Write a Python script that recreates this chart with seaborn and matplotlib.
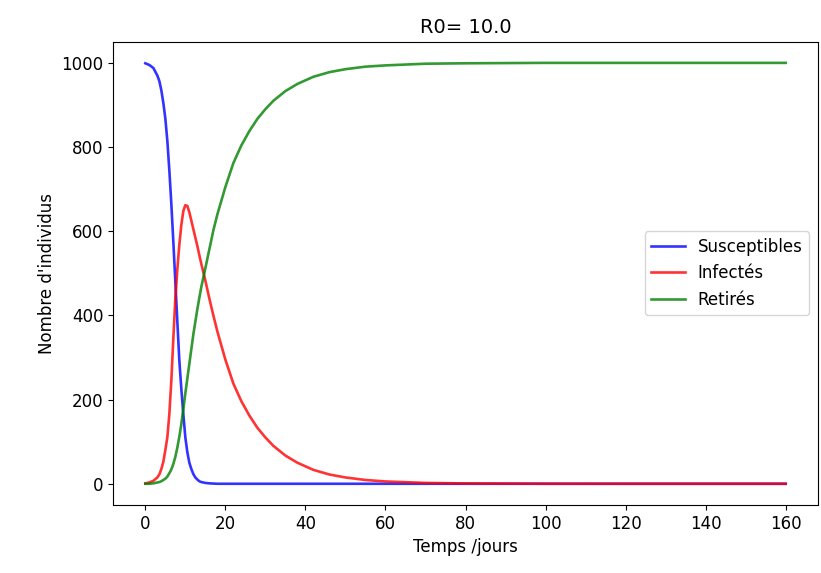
import matplotlib
matplotlib.use("Agg")
import matplotlib.pyplot as plt
import seaborn as sns
import pandas as pd

days = [0, 1, 2, 3, 3.5, 4, 4.5, 5, 5.5, 6, 6.5, 7, 7.5, 8, 8.5, 9, 9.5, 10, 10.5, 11, 11.5, 12, 12.5,
        13, 13.5, 14, 15, 16, 17, 18, 20, 22, 24, 26, 28, 30,
        32, 35, 38, 42, 46, 50, 55, 60, 70, 80, 100, 120, 140, 160]
susceptibles = [999, 995, 988, 970, 957, 935, 905, 868, 815, 745, 665, 575, 480, 385, 293, 225, 165, 110,
                75, 50, 35, 23, 15, 10, 6, 4, 2, 1, 0.5, 0, 0, 0,
                0, 0, 0, 0, 0, 0, 0, 0, 0, 0, 0, 0, 0, 0, 0, 0, 0, 0]
infectes = [1, 3, 7, 15, 22, 35, 52, 80, 110, 165, 245, 345, 440, 510, 568, 615, 648, 662,
            660, 645, 625, 605, 585, 565, 543, 522, 483, 440, 400, 362, 295, 238,
            196, 162, 133, 110, 90, 67, 50, 33, 22, 15, 9, 5.5, 2, 0.8, 0.1, 0, 0, 0]
retires = [0, 0, 1, 3, 4, 6, 9, 12, 17, 25, 34, 47, 64, 86, 112, 142, 178, 215,
           250, 285, 320, 355, 385, 415, 442, 468, 512, 557, 602, 640, 705, 762,
           804, 838, 867, 890, 910, 933, 950, 967, 978, 985, 991, 994, 998, 999, 1000, 1000, 1000, 1000]
series_names = ["Susceptibles", "Infectés", "Retirés"]
colors = ["blue", "red", "green"]

df = pd.concat([
    pd.DataFrame({"t": days, "n": vals, "groupe": name})
    for name, vals in zip(series_names, [susceptibles, infectes, retires])
])

fig = plt.figure(figsize=(8.21, 5.73), dpi=100)
ax = fig.add_axes([0.138, 0.119, 0.858, 0.808])
sns.lineplot(data=df, x="t", y="n", hue="groupe", hue_order=series_names,
             palette=dict(zip(series_names, colors)), linewidth=1.9, alpha=0.8, ax=ax,
             estimator=None, sort=False)

ax.set_xlim(-8, 168)
ax.set_ylim(-50, 1050)
ax.set_xticks([0, 20, 40, 60, 80, 100, 120, 140, 160])
ax.set_yticks([0, 200, 400, 600, 800, 1000])
ax.tick_params(labelsize=12)
ax.set_xlabel("Temps /jours", fontsize=12)
ax.set_ylabel("Nombre d'individus", fontsize=12)
ax.set_title("R0= 10.0", fontsize=14)
leg = ax.legend(loc="center right", fontsize=12)
leg.set_title(None)

fig.savefig("out.png", dpi=100)
